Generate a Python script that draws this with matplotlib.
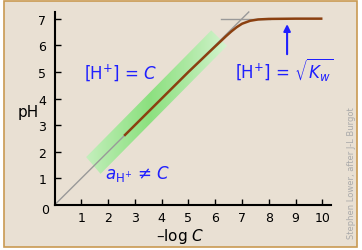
import numpy as np
import matplotlib
matplotlib.use("Agg")
import matplotlib.pyplot as plt
from matplotlib.patches import Polygon, Rectangle

# data
curve_x = [2.6, 3.0, 4.0, 5.0, 5.5, 5.8, 6.0, 6.2, 6.4, 6.6, 6.8, 7.0, 7.3, 7.6, 8.0, 9.0, 10.0]
curve_y = [2.6, 3.0, 4.0, 5.0, 5.48, 5.77, 5.96, 6.15, 6.34, 6.52, 6.68, 6.81, 6.92, 6.97, 6.99, 7.0, 7.0]
ideal_x = [0.0, 7.25]
ideal_y = [0.0, 7.25]
limit_x = [6.2, 8.05]
limit_y = [7.0, 7.0]
xticks = [1, 2, 3, 4, 5, 6, 7, 8, 9, 10]
yticks = [1, 2, 3, 4, 5, 6, 7]

bg = "#e9e0d3"
blue = "#1f1fff"

fig = plt.figure(figsize=(3.62, 2.51), dpi=100)
fig.patch.set_facecolor("white")
fig.patches.append(Rectangle((4/362, 3/251), 353/362, 246/251, transform=fig.transFigure,
                             facecolor=bg, edgecolor="#c99a52", linewidth=1.2, zorder=-10))

ax = fig.add_axes([54.5/362, 45/251, 276/362, 193/251])
ax.set_facecolor("none")
ax.set_xlim(0, 10.3)
ax.set_ylim(0, 7.25)

# green gradient band along the diagonal
t = np.linspace(0, 1, 200)
img = np.zeros((1, 200, 4))
light = np.array([0.86, 0.96, 0.84])
dark = np.array([0.55, 0.88, 0.50])
w = np.clip(1 - np.abs(t - 0.45) / 0.55, 0, 1) ** 0.8
for i in range(3):
    img[0, :, i] = light[i] * (1 - w) + dark[i] * w
img[0, :, 3] = 1
x0, x1 = 1.1, 6.5
im = ax.imshow(img, extent=[x0, x1, 0, 7.25], aspect="auto", origin="lower", zorder=1,
               interpolation="bilinear")
poly = Polygon([(1.18, 1.80), (1.72, 1.17), (6.44, 5.98), (5.85, 6.56)], closed=True,
               transform=ax.transData, facecolor="none", edgecolor="none")
ax.add_patch(poly)
im.set_clip_path(poly)
ax.set_xlim(0, 10.3)
ax.set_ylim(0, 7.25)

ax.plot(ideal_x, ideal_y, color="#999999", lw=1.0, zorder=2, clip_on=False)
ax.plot(limit_x, limit_y, color="#999999", lw=1.0, zorder=2)
ax.plot(curve_x, curve_y, color="#8b4010", lw=1.8, zorder=3, solid_capstyle="butt")

for s in ["top", "right"]:
    ax.spines[s].set_visible(False)
for s in ["left", "bottom"]:
    ax.spines[s].set_linewidth(1.5)
    ax.spines[s].set_color("black")
ax.set_xticks(xticks)
ax.set_yticks(yticks)
ax.tick_params(direction="in", length=4, width=1, labelsize=9, colors="black", pad=4)
ax.tick_params(axis="y", pad=6)
ax.text(-0.35, -0.18, "0", ha="center", va="center", fontsize=9, clip_on=False)

ax.text(-0.096, 0.487, "pH", transform=ax.transAxes, ha="center", va="center", fontsize=11)
ax.text(0.457, -0.16, "–log $\\mathit{C}$", transform=ax.transAxes, ha="center", va="center",
        fontsize=11)

ax.text(1.1, 5.0, "[H$^{+}$] = $\\mathit{C}$", color=blue, fontsize=12, ha="left", va="center")
ax.text(6.75, 5.1, "[H$^{+}$] = $\\sqrt{K_w}$", color=blue, fontsize=12, ha="left", va="center")
ax.text(1.9, 1.2, "$a_{\\mathrm{H^{+}}}$ ≠ $\\mathit{C}$", color=blue, fontsize=12, ha="left", va="center")
ax.annotate("", xy=(8.68, 6.9), xytext=(8.68, 5.56),
            arrowprops=dict(arrowstyle="-|>", color=blue, lw=1.5, mutation_scale=10))

fig.text(352/362, (251 - 173)/251, "Stephen Lower, after J-L Burgot", rotation=90, fontsize=6,
         color="#aaaaaa", ha="center", va="center")

fig.savefig("out.png", dpi=100, facecolor=fig.get_facecolor())
